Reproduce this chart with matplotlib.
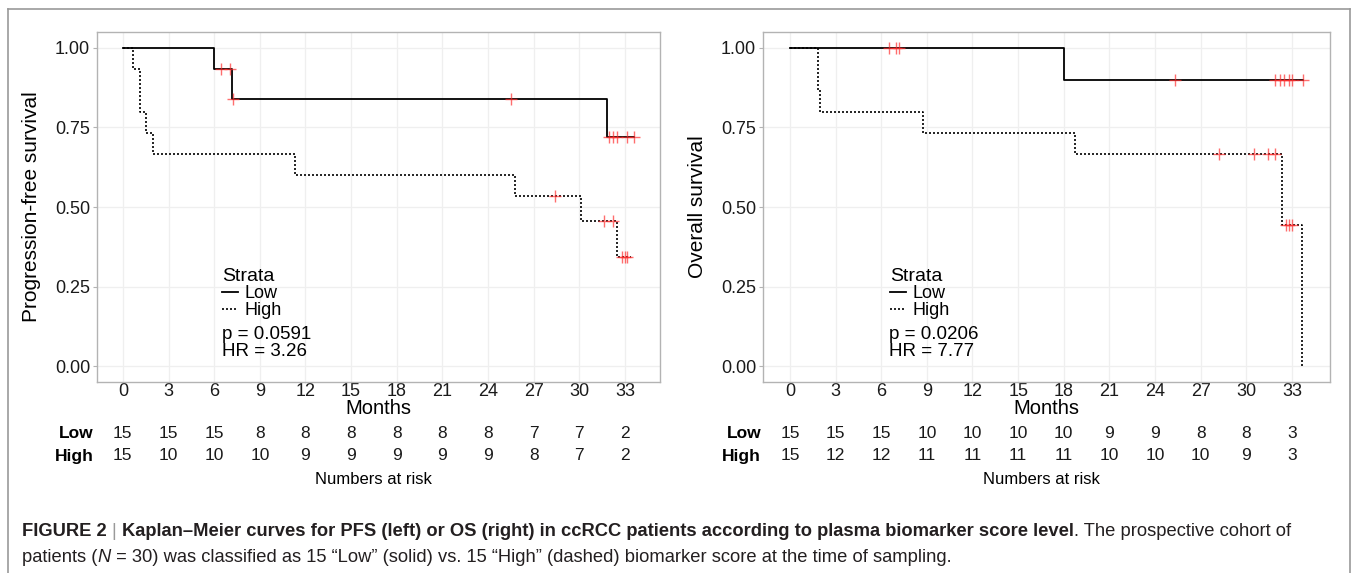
import numpy as np
import matplotlib
matplotlib.use("Agg")
import matplotlib.pyplot as plt
from matplotlib.lines import Line2D
from matplotlib.transforms import blended_transform_factory

plt.rcParams['font.family'] = ['Liberation Sans', 'DejaVu Sans']

W, H = 1356, 573

month_ticks = list(range(0, 34, 3))
surv_ticks = [0.0, 0.25, 0.5, 0.75, 1.0]

# ---- PFS (left panel) ----
pfs_low_t = [0, 6.0, 7.2, 31.8]
pfs_low_s = [1.0, 0.933, 0.84, 0.72]
pfs_low_end = 33.6
pfs_low_cens = [6.45, 7.05, 7.25, 25.5, 31.95, 32.2, 32.5, 33.1, 33.6]

pfs_high_t = [0, 0.65, 1.15, 1.55, 1.95, 11.3, 25.8, 30.1, 32.5]
pfs_high_s = [1.0, 0.933, 0.8, 0.733, 0.667, 0.6, 0.533, 0.457, 0.343]
pfs_high_end = 33.4
pfs_high_cens = [28.4, 31.6, 32.2, 32.8, 33.0, 33.15]

pfs_risk_low = [15, 15, 15, 8, 8, 8, 8, 8, 8, 7, 7, 2]
pfs_risk_high = [15, 10, 10, 10, 9, 9, 9, 9, 9, 8, 7, 2]
pfs_stats = "p = 0.0591\nHR = 3.26"

# ---- OS (right panel) ----
os_low_t = [0, 18.0]
os_low_s = [1.0, 0.9]
os_low_end = 33.7
os_low_cens = [6.5, 7.0, 7.15, 25.3, 31.9, 32.2, 32.45, 32.8, 33.0, 33.7]

os_high_t = [0, 1.85, 2.0, 8.75, 18.77, 32.35, 33.65]
os_high_s = [1.0, 0.867, 0.8, 0.733, 0.667, 0.444, 0.0]
os_high_end = 33.65
os_high_cens = [28.2, 30.5, 31.45, 31.9, 32.6, 32.8, 33.0]

os_risk_low = [15, 15, 15, 10, 10, 10, 10, 9, 9, 8, 8, 3]
os_risk_high = [15, 12, 12, 11, 11, 11, 11, 10, 10, 10, 9, 3]
os_stats = "p = 0.0206\nHR = 7.77"

fig = plt.figure(figsize=(W / 100, H / 100), dpi=100)

TOP, BOT = 32, 382


def fy(px):
    return 1 - px / H


def km_curve(ax, t, s, end, cens, dashed):
    xs = list(t) + [end]
    ys = list(s) + [s[-1]]
    kw = dict(color='black', lw=1.3, where='post', zorder=3)
    if dashed:
        kw.update(lw=1.2, dashes=(1.2, 1.2))
    ax.step(xs, ys, **kw)
    idx = np.searchsorted(t, cens, side='right') - 1
    cy = np.array(s)[idx]
    ax.plot(cens, cy, ls='none', marker='+', ms=9, mew=1.0,
            color='#ff3030', alpha=0.7, zorder=4)


def panel(x0, x1, xlim, ylabel, low, high, stats, risk_low, risk_high, leg_px):
    ax = fig.add_axes([x0 / W, fy(BOT), (x1 - x0) / W, (BOT - TOP) / H])
    km_curve(ax, *low, dashed=False)
    km_curve(ax, *high, dashed=True)
    ax.set_xlim(*xlim)
    ax.set_ylim(-0.05, 1.05)
    ax.set_xticks(month_ticks)
    ax.set_yticks(surv_ticks)
    ax.set_yticklabels([f"{v:.2f}" for v in surv_ticks])
    ax.grid(True, color='#efefef', lw=0.9)
    ax.set_axisbelow(True)
    for sp in ax.spines.values():
        sp.set_color('#b3b3b3')
        sp.set_linewidth(1.0)
    ax.tick_params(length=3, width=0.8, color='#b3b3b3', labelsize=13,
                   labelcolor='#1a1a1a', pad=2)
    ax.tick_params(axis='x', length=0.5, pad=0.5)
    ax.set_ylabel(ylabel, fontsize=15)
    ax.yaxis.set_label_coords(-56 / (x1 - x0), 0.5)
    ax.set_xlabel("Months", fontsize=14.5)
    ax.xaxis.set_label_coords(0.5, (BOT - 409) / (BOT - TOP))
    ax.xaxis.label.set_va('center')

    handles = [Line2D([], [], color='black', lw=1.3),
               Line2D([], [], color='black', lw=1.2, dashes=(1.2, 1.2))]
    ax.legend(handles, ['Low', 'High'], title='Strata', loc='upper left',
              bbox_to_anchor=((leg_px - x0) / (x1 - x0), (BOT - 268) / (BOT - TOP)),
              frameon=False, fontsize=13, title_fontsize=14, handlelength=0.9,
              handletextpad=0.35, labelspacing=0.0, borderpad=0, borderaxespad=0,
              alignment='left')
    ax.text(6.5, 0.127, stats, fontsize=13.5, va='top', ha='left',
            linespacing=1.0)

    tr = blended_transform_factory(ax.transData, fig.transFigure)
    for row, label, ypx in [(risk_low, 'Low', 433), (risk_high, 'High', 456)]:
        ax.text(-1.9, fy(ypx), label, transform=tr, ha='right', va='center',
                fontsize=12.5, fontweight='bold', color='black')
        for m, n in zip(month_ticks, row):
            ax.text(m, fy(ypx), str(n), transform=tr, ha='center', va='center',
                    fontsize=12.5, color='#1a1a1a')
    ax.text(16.5, fy(479), 'Numbers at risk', transform=tr, ha='center',
            va='center', fontsize=12)
    return ax


axL = panel(97, 660, (-1.7, 35.3), "Progression-free survival",
            (pfs_low_t, pfs_low_s, pfs_low_end, pfs_low_cens),
            (pfs_high_t, pfs_high_s, pfs_high_end, pfs_high_cens),
            pfs_stats, pfs_risk_low, pfs_risk_high, 222)
axR = panel(763, 1330, (-1.77, 35.5), "Overall survival",
            (os_low_t, os_low_s, os_low_end, os_low_cens),
            (os_high_t, os_high_s, os_high_end, os_high_cens),
            os_stats, os_risk_low, os_risk_high, 890)

# outer frame
fcol = '#999999'
fig.add_artist(Line2D([8 / W, 8 / W], [0, fy(9)], color=fcol, lw=1.2))
fig.add_artist(Line2D([8 / W, 1350 / W], [fy(9), fy(9)], color=fcol, lw=1.2))
fig.add_artist(Line2D([1350 / W, 1350 / W], [0, fy(9)], color=fcol, lw=1.2))

# caption with mixed styles
renderer = fig.canvas.get_renderer()


def put_pieces(xpx, ypx, pieces, size):
    x = xpx / W
    for txt, kw in pieces:
        style = dict(va='center', ha='left', fontsize=size, color='#231f20')
        style.update(kw)
        t = fig.text(x, fy(ypx), txt, **style)
        bb = t.get_window_extent(renderer=renderer)
        x = bb.x1 / W


put_pieces(22, 532, [
    ("FIGURE 2 ", dict(fontweight='bold')),
    ("| ", dict(color='#9a9a9a')),
    ("Kaplan\u2013Meier curves for PFS (left) or OS (right) in ccRCC patients "
     "according to plasma biomarker score level", dict(fontweight='bold')),
    (". The prospective cohort of", dict()),
], 13.2)
put_pieces(22, 557, [
    ("patients (", dict()),
    ("N", dict(style='italic')),
    (" = 30) was classified as 15 \u201cLow\u201d (solid) vs. 15 \u201cHigh\u201d "
     "(dashed) biomarker score at the time of sampling.", dict()),
], 13.2)

fig.savefig("out.png", dpi=100)
